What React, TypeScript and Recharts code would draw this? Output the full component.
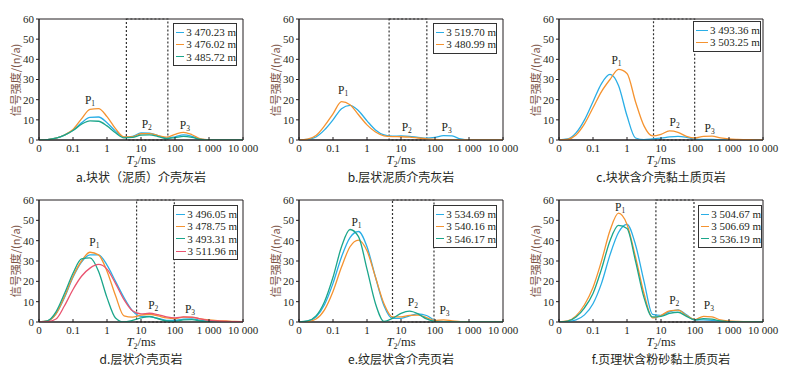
import React from 'react';
import { LineChart, Line, XAxis, YAxis, ReferenceArea, ReferenceDot } from 'recharts';

// log10(T2 / ms); -2 is drawn as "0"
const logT2 = [-2, -1.75, -1.5, -1.25, -1, -0.75, -0.5, -0.25, 0, 0.25, 0.5, 0.75, 1, 1.25, 1.5, 1.75, 2, 2.25, 2.5, 2.75, 3, 3.25, 3.5, 3.75, 4];
const xTicks = [-2, -1, 0, 1, 2, 3, 4];
const xTickLabels = ['0', '0.1', '1', '10', '100', '1 000', '10 000'];
const yTicks = [0, 10, 20, 30, 40, 50, 60];
const peakNames = ['1', '2', '3'];

// a
const aDepths = ['3 470.23 m', '3 476.02 m', '3 485.72 m'];
const aBlue = [0, 0.2, 0.9, 2.4, 4.8, 8.5, 11.2, 11.4, 8.6, 4.4, 1.4, 1.8, 3.5, 3.4, 2.2, 1.0, 1.6, 2.5, 1.8, 0.4, 0, 0, 0, 0, 0];
const aOrange = [0, 0.2, 0.9, 2.5, 5.2, 10.5, 15.2, 15.6, 11.6, 5.6, 1.5, 1.6, 3.1, 3.2, 2.2, 1.4, 2.8, 3.8, 2.6, 0.6, 0.1, 0, 0, 0, 0];
const aGreen = [0, 0.2, 0.9, 2.4, 4.7, 7.8, 9.5, 9.3, 7.0, 3.6, 1.1, 1.3, 2.4, 2.5, 1.7, 0.7, 1.2, 1.8, 1.3, 0.3, 0, 0, 0, 0, 0];
const aBounds = [0.57, 1.79];
const aPeakX = [-0.5, 1.17, 2.29];
const aPeakY = [19.6, 7.7, 7.2];

// b
const bDepths = ['3 519.70 m', '3 480.99 m'];
const bBlue = [0, 0.3, 1.5, 5, 10, 15.5, 17.2, 14.5, 9.5, 5, 2.5, 1.9, 2.0, 1.8, 1.3, 0.9, 1.3, 2.2, 2.0, 0.5, 0, 0, 0, 0, 0];
const bOrange = [0, 0.4, 2.2, 7, 13, 19, 17.5, 12.5, 7.5, 4, 2.1, 1.7, 1.6, 1.4, 1.0, 0.6, 0.3, 0.1, 0, 0, 0, 0, 0, 0, 0];
const bBounds = [0.65, 1.76];
const bPeakX = [-0.7, 1.17, 2.34];
const bPeakY = [24.8, 6.6, 6.6];

// c
const cDepths = ['3 493.36 m', '3 503.25 m'];
const cBlue = [0, 0.5, 3.5, 10, 19, 28, 32.5, 27, 12, 1, 0.2, 0.5, 0.9, 1.5, 1.8, 1.3, 0.4, 0.3, 0.3, 0.1, 0, 0, 0, 0, 0];
const cOrange = [0, 0.3, 2.5, 8, 16, 24, 30, 35, 33, 19, 7, 2, 2.8, 4.5, 3.8, 1.8, 1.0, 1.8, 1.9, 1.0, 0.5, 0.3, 0.2, 0.1, 0];
const cBounds = [0.78, 1.99];
const cPeakX = [-0.31, 1.4, 2.43];
const cPeakY = [39.7, 9.1, 6.1];

// d
const dDepths = ['3 496.05 m', '3 478.75 m', '3 493.31 m', '3 511.96 m'];
const dBlue = [0, 0.5, 4, 12, 22, 29.5, 33, 33, 28, 20, 12, 5.5, 2.8, 2.6, 1.8, 0.8, 0.8, 1.4, 1.5, 0.8, 0.3, 0.1, 0, 0, 0];
const dOrange = [0, 0.5, 4, 12.5, 22.5, 30, 34.3, 33, 25, 13, 3, 2.4, 3.4, 3.8, 3, 2, 1.7, 2.4, 2.3, 1.5, 1, 0.7, 0.5, 0.3, 0.2];
const dGreen = [0, 0.6, 5, 14, 24, 31, 31.5, 25, 12, 2, 0, 0.8, 2, 2.7, 1.6, 0.5, 0.3, 1.0, 1.2, 0.5, 0.2, 0, 0, 0, 0];
const dRed = [0, 0.2, 1.5, 8, 16, 22.5, 26.5, 28.3, 26, 19, 11, 5.5, 4, 4.3, 3.6, 2.5, 2.0, 2.5, 2.4, 1.5, 0.8, 0.5, 0.3, 0.2, 0.1];
const dBounds = [0.87, 1.98];
const dPeakX = [-0.37, 1.36, 2.44];
const dPeakY = [39.5, 8.2, 6.6];

// e
const eDepths = ['3 534.69 m', '3 540.16 m', '3 546.17 m'];
const eBlue = [0, 0.4, 2.5, 8.5, 19, 32, 41.5, 44.5, 37, 22, 8, 1.8, 1.8, 3, 4, 3.2, 0.8, 0.2, 0.1, 0, 0, 0, 0, 0, 0];
const eOrange = [0, 0.2, 1.5, 6, 15, 27, 37, 40.3, 35, 22, 9, 2.5, 2.5, 3.3, 3.4, 2.2, 0.8, 1.0, 0.6, 0.2, 0.1, 0, 0, 0, 0];
const eGreen = [0, 0.5, 3, 10, 22, 37, 45.5, 42, 26, 9, 0.3, 1.8, 4.2, 5.3, 4, 1.5, 0.3, 0, 0, 0, 0, 0, 0, 0, 0];
const eBounds = [0.75, 1.97];
const ePeakX = [-0.31, 1.35, 2.28];
const ePeakY = [49.4, 10, 5.9];

// f
const fDepths = ['3 504.67 m', '3 506.69 m', '3 536.19 m'];
const fBlue = [0, 0.2, 1, 3.5, 9, 19, 33, 44, 48, 38, 20, 3.8, 3.3, 5, 6, 3.5, 1.0, 1.0, 0.8, 0.3, 0.1, 0, 0, 0, 0];
const fOrange = [0, 0.5, 3, 8.5, 17, 30, 45, 53.5, 48, 32, 14, 2, 3.2, 5.5, 5.8, 3.2, 1.2, 2.8, 2.5, 1.0, 0.5, 0.3, 0.2, 0.1, 0];
const fGreen = [0, 0.4, 2.5, 7, 14, 26, 40, 47.5, 46, 30, 12, 2.5, 2.8, 4.2, 4.8, 2.8, 1.0, 1.7, 1.4, 0.5, 0.2, 0.1, 0, 0, 0];
const fBounds = [0.85, 1.97];
const fPeakX = [-0.2, 1.39, 2.41];
const fPeakY = [56.7, 10.9, 8.4];

const BLUE = '#2aaee6';
const ORANGE = '#f59330';
const GREEN = '#1ba68b';
const RED = '#ea5470';

const SERIF = 'Liberation Serif, DejaVu Serif, serif';
const CJK = 'Noto Sans CJK SC, Noto Sans, sans-serif';
const TEXT = '#231f20';
const YLABEL = '#7a5245';

const colLefts = [39, 299, 559];
const rowTops = [19, 200];
const rowHeights = [121, 122];
const PLOT_W = 204;

type Series = { name: string; color: string; values: number[] };
type Panel = {
  title: string;
  col: number;
  row: number;
  series: Series[];
  bounds: number[];
  peakX: number[];
  peakY: number[];
  legend: { left: number; top: number; width: number };
};

const panels: Panel[] = [
  {
    title: 'a.块状（泥质）介壳灰岩', col: 0, row: 0,
    series: [
      { name: aDepths[0], color: BLUE, values: aBlue },
      { name: aDepths[1], color: ORANGE, values: aOrange },
      { name: aDepths[2], color: GREEN, values: aGreen },
    ],
    bounds: aBounds, peakX: aPeakX, peakY: aPeakY,
    legend: { left: 173, top: 23, width: 64 },
  },
  {
    title: 'b.层状泥质介壳灰岩', col: 1, row: 0,
    series: [
      { name: bDepths[0], color: BLUE, values: bBlue },
      { name: bDepths[1], color: ORANGE, values: bOrange },
    ],
    bounds: bBounds, peakX: bPeakX, peakY: bPeakY,
    legend: { left: 433, top: 23, width: 64 },
  },
  {
    title: 'c.块状含介壳黏土质页岩', col: 2, row: 0,
    series: [
      { name: cDepths[0], color: BLUE, values: cBlue },
      { name: cDepths[1], color: ORANGE, values: cOrange },
    ],
    bounds: cBounds, peakX: cPeakX, peakY: cPeakY,
    legend: { left: 693, top: 21, width: 68 },
  },
  {
    title: 'd.层状介壳页岩', col: 0, row: 1,
    series: [
      { name: dDepths[0], color: BLUE, values: dBlue },
      { name: dDepths[1], color: ORANGE, values: dOrange },
      { name: dDepths[2], color: GREEN, values: dGreen },
      { name: dDepths[3], color: RED, values: dRed },
    ],
    bounds: dBounds, peakX: dPeakX, peakY: dPeakY,
    legend: { left: 173, top: 205, width: 65 },
  },
  {
    title: 'e.纹层状含介壳页岩', col: 1, row: 1,
    series: [
      { name: eDepths[0], color: BLUE, values: eBlue },
      { name: eDepths[1], color: ORANGE, values: eOrange },
      { name: eDepths[2], color: GREEN, values: eGreen },
    ],
    bounds: eBounds, peakX: ePeakX, peakY: ePeakY,
    legend: { left: 433, top: 205, width: 64 },
  },
  {
    title: 'f.页理状含粉砂黏土质页岩', col: 2, row: 1,
    series: [
      { name: fDepths[0], color: BLUE, values: fBlue },
      { name: fDepths[1], color: ORANGE, values: fOrange },
      { name: fDepths[2], color: GREEN, values: fGreen },
    ],
    bounds: fBounds, peakX: fPeakX, peakY: fPeakY,
    legend: { left: 698, top: 205, width: 64 },
  },
];

const fmtX = (v: number) => {
  const i = xTicks.indexOf(v);
  return i >= 0 ? xTickLabels[i] : '';
};

const tickStyle = { fill: TEXT, fontSize: 11, fontFamily: SERIF };

function PeakLabel(props: any) {
  const { cx, cy, name } = props;
  if (cx == null || cy == null) return null;
  return (
    <text x={cx} y={cy + 4} textAnchor="middle" fill={TEXT} fontFamily={SERIF} fontSize={11.5}>
      P<tspan fontSize={7.5} dy={2}>{name}</tspan>
    </text>
  );
}

function PanelChart({ p }: { p: Panel }) {
  const plotLeft = colLefts[p.col];
  const plotTop = rowTops[p.row];
  const h = rowHeights[p.row];
  const rows = logT2.map((x, i) => {
    const r: any = { x };
    p.series.forEach((s, k) => {
      r['s' + k] = s.values[i];
    });
    return r;
  });
  return (
    <div style={{ position: 'absolute', left: plotLeft - 39, top: plotTop - 19 }}>
      <LineChart width={260} height={19 + h + 20} data={rows} margin={{ top: 19, right: 17, left: 9, bottom: 0 }}>
        <XAxis
          type="number" dataKey="x" domain={[-2, 4]} ticks={xTicks} interval={0}
          tickFormatter={fmtX} tickSize={-3} tickMargin={7} height={20}
          stroke={TEXT} tick={tickStyle} allowDataOverflow
        />
        <YAxis
          type="number" domain={[0, 60]} ticks={yTicks} interval={0} width={30}
          tickSize={3} tickMargin={2} stroke={TEXT} tick={tickStyle} allowDataOverflow
        />
        <ReferenceArea x1={-2} x2={4} y1={0} y2={60} fill="none" stroke={TEXT} strokeWidth={1} fillOpacity={0} />
        <ReferenceArea
          x1={p.bounds[0]} x2={p.bounds[1]} y1={0} y2={60}
          fill="none" fillOpacity={0} stroke="#333" strokeWidth={1.2} strokeDasharray="2 2"
        />
        {p.series.map((s, k) => (
          <Line
            key={s.name} type="monotone" dataKey={'s' + k} stroke={s.color} strokeWidth={1.3}
            dot={false} activeDot={false} isAnimationActive={false}
          />
        ))}
        {p.peakX.map((x, i) => (
          <ReferenceDot
            key={'p' + i} x={x} y={p.peakY[i]} r={0}
            shape={(props: any) => <PeakLabel {...props} name={peakNames[i]} />}
          />
        ))}
      </LineChart>
    </div>
  );
}

function Overlay({ p }: { p: Panel }) {
  const plotLeft = colLefts[p.col];
  const plotTop = rowTops[p.row];
  const h = rowHeights[p.row];
  const cx = plotLeft + PLOT_W / 2;
  return (
    <>
      <div
        style={{
          position: 'absolute', left: plotLeft - 24, top: plotTop + h / 2,
          transform: 'translate(-50%, -50%) rotate(-90deg)', whiteSpace: 'nowrap',
          fontFamily: CJK, fontSize: 11, color: YLABEL, lineHeight: '12px',
        }}
      >
        信号强度/(n/a)
      </div>
      <div
        style={{
          position: 'absolute', left: cx, top: plotTop + h + 22, transform: 'translate(-50%, -50%)',
          whiteSpace: 'nowrap', fontFamily: SERIF, fontSize: 12.5, color: TEXT, lineHeight: '14px',
        }}
      >
        <i>T</i><sub style={{ fontSize: 8, verticalAlign: '-3px' }}>2</sub>/ms
      </div>
      <div
        style={{
          position: 'absolute', left: cx, top: plotTop + h + 37, transform: 'translate(-50%, -50%)',
          whiteSpace: 'nowrap', fontFamily: CJK, fontSize: 12, color: TEXT, lineHeight: '14px',
        }}
      >
        {p.title}
      </div>
      <div
        style={{
          position: 'absolute', left: p.legend.left, top: p.legend.top, width: p.legend.width,
          border: '1px solid #333', background: '#fff', boxSizing: 'border-box', padding: '2px 0 2px 2px',
        }}
      >
        {p.series.map((s) => (
          <div key={s.name} style={{ display: 'flex', alignItems: 'center', height: 12.3 }}>
            <div style={{ width: 12, height: 0, borderTop: `1.4px solid ${s.color}`, marginRight: 2 }} />
            <span style={{ fontFamily: SERIF, fontSize: 11, color: TEXT, whiteSpace: 'nowrap', lineHeight: '12px' }}>{s.name}</span>
          </div>
        ))}
      </div>
    </>
  );
}

export default function App() {
  return (
    <div style={{ position: 'absolute', left: 0, top: 0, width: 792, height: 377, background: '#fff', overflow: 'hidden' }}>
      {panels.map((p) => (
        <PanelChart key={p.title} p={p} />
      ))}
      {panels.map((p) => (
        <Overlay key={'o' + p.title} p={p} />
      ))}
    </div>
  );
}
